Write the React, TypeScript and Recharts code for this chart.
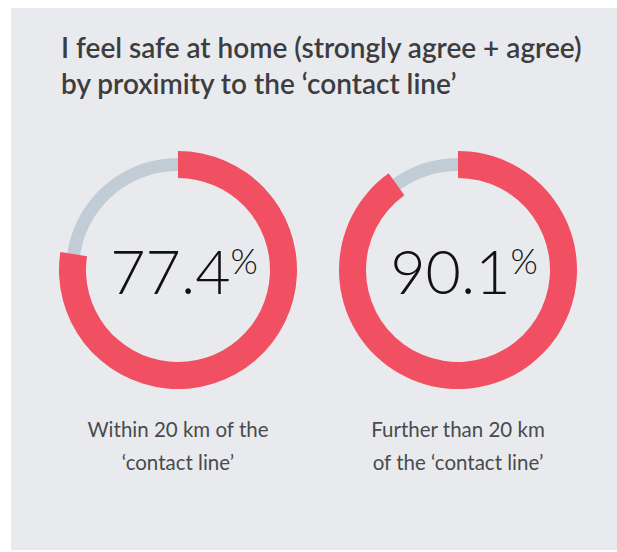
import { PieChart, Pie, Cell, Label } from "recharts"

const titleLines = ["I feel safe at home (strongly agree + agree)", "by proximity to the \u2018contact line\u2019"]
const values = [77.4, 90.1]
const valueTexts = ["77.4", "90.1"]
const groupLines = [
  ["Within 20 km of the", "\u2018contact line\u2019"],
  ["Further than 20 km", "of the \u2018contact line\u2019"],
]

const RED = "#f14f62"
const TRACK = "#c2ccd6"
const centersX = [178, 458]
const SIZE = 280

function Donut({ value, text, left }: { value: number; text: string; left: number }) {
  const data = [
    { name: "agree", v: value },
    { name: "rest", v: 100 - value },
  ]
  return (
    <div style={{ position: "absolute", left, top: 130 }}>
      <PieChart width={SIZE} height={SIZE} margin={{ top: 0, right: 0, bottom: 0, left: 0 }}>
        <Pie
          data={[{ name: "track", v: 100 }]}
          dataKey="v"
          cx={SIZE / 2}
          cy={SIZE / 2}
          innerRadius={99}
          outerRadius={112}
          startAngle={90}
          endAngle={-270}
          fill={TRACK}
          stroke="none"
          isAnimationActive={false}
        />
        <Pie
          data={data}
          dataKey="v"
          cx={SIZE / 2}
          cy={SIZE / 2}
          innerRadius={92}
          outerRadius={119}
          startAngle={90}
          endAngle={-270}
          stroke="none"
          isAnimationActive={false}
        >
          <Cell fill={RED} />
          <Cell fill="transparent" />
          <Label
            position="center"
            content={(props: any) => {
              const vb = props.viewBox || {}
              const cx = vb.cx ?? SIZE / 2
              const cy = vb.cy ?? SIZE / 2
              return (
                <text x={cx + 6} y={cy + 24} textAnchor="middle" fill="#111" fontFamily="Lato" fontWeight={300}>
                  <tspan fontSize={61}>{text}</tspan>
                  <tspan fontSize={35} dy={-20}>%</tspan>
                </text>
              )
            }}
          />
        </Pie>
      </PieChart>
    </div>
  )
}

export default function App() {
  return (
    <div style={{ position: "absolute", left: 0, top: 0, width: 617, height: 552, background: "#fff", overflow: "hidden" }}>
      <div style={{ position: "absolute", left: 11, top: 8, width: 606, height: 542, background: "#e9eaee" }} />
      <div
        style={{
          position: "absolute",
          left: 61,
          top: 29,
          fontFamily: "Lato",
          fontWeight: 600,
          fontSize: 28,
          lineHeight: "36px",
          color: "#3d3d40",
          whiteSpace: "nowrap",
        }}
      >
        {titleLines.map((l) => (
          <div key={l}>{l}</div>
        ))}
      </div>
      {values.map((v, i) => (
        <Donut key={i} value={v} text={valueTexts[i]} left={centersX[i] - SIZE / 2} />
      ))}
      {groupLines.map((lines, i) => (
        <div
          key={i}
          style={{
            position: "absolute",
            left: centersX[i] - 130,
            top: 413,
            width: 260,
            textAlign: "center",
            fontFamily: "Lato",
            fontSize: 20.5,
            lineHeight: "33px",
            color: "#4a4a4c",
          }}
        >
          {lines.map((l) => (
            <div key={l}>{l}</div>
          ))}
        </div>
      ))}
    </div>
  )
}
